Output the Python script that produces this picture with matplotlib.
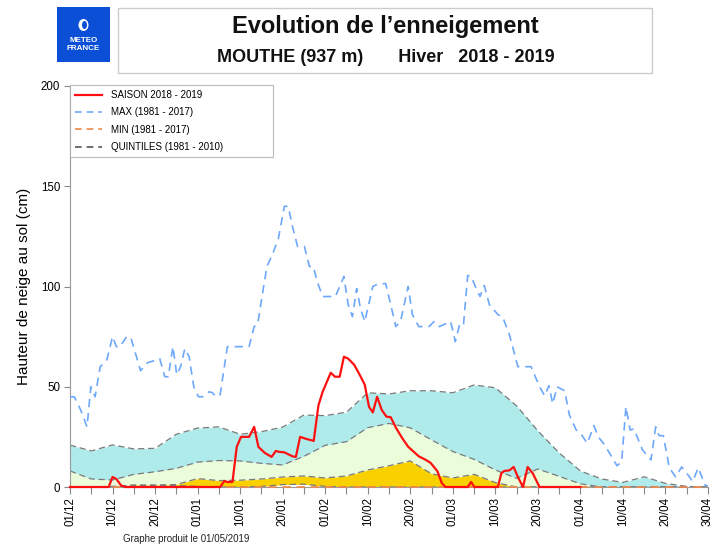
import matplotlib
matplotlib.use("Agg")
import matplotlib.pyplot as plt
from matplotlib.patches import Rectangle, Ellipse
from matplotlib.lines import Line2D

plt.rcParams['font.family'] = ['Liberation Sans', 'DejaVu Sans']

# ---------------- data ----------------
# x axis unit: "decade" based days (each labelled decade = 10 units)
tick_labels = ["01/12", "10/12", "20/12", "01/01", "10/01", "20/01", "01/02", "10/02",
               "20/02", "01/03", "10/03", "20/03", "01/04", "10/04", "20/04", "30/04"]

quint_x = list(range(0, 155, 5))
q80 = [20.9, 18, 21, 19, 19.3, 26.3, 29.4, 30, 26.3, 27.6, 29.9, 35.9, 35.6, 37.3, 47, 46.4,
       48, 48, 47, 50.9, 49.5, 40.5, 28, 17, 8, 4, 2.3, 5.1, 1.8, 0.3, 0]
q60 = [8, 4, 3.5, 6.3, 7.6, 9.3, 12.4, 13.2, 13, 11.8, 11, 15.3, 20.8, 22.6, 29.6, 31.7,
       29.5, 23.5, 17.7, 13.8, 8.5, 4.3, 9, 5.3, 1.6, 0, 0, 0, 0, 0, 0]
q40 = [0, 0, 0.3, 1, 1, 1.2, 4.2, 3.2, 3.4, 4, 5, 5.5, 4.5, 5.5, 8.5, 10.6,
       13, 6.6, 4.5, 6.3, 2.2, 0, 0, 0, 0, 0, 0, 0, 0, 0, 0]
q20 = [0, 0, 0, 0.8, 0.8, 0.8, 0.3, 0, 0, 0.3, 1.2, 1.4, 0.3, 0, 0, 0,
       0, 0, 0, 0, 0, 0, 0, 0, 0, 0, 0, 0, 0, 0, 0]

max_x = [0, 1, 2.6, 4, 4.9, 5.9, 7.1, 8.6, 10, 10.9, 11.8, 13.3, 14.3, 16.6, 18.2, 19.8,
         21.1, 22.3, 23.1, 24.2, 25.1, 26, 27, 28, 29.1, 30.2, 31.2, 32.7, 33.5, 34.3, 35.3,
         37, 42.1, 43.3, 44.1, 45.3, 46.3, 47.6, 49, 50.4, 51.3, 52.3, 53.5, 55.1, 56.3, 57.2,
         58.2, 59.4, 62.4, 64.4, 65.4, 66.4, 67.4, 68.3, 69.3, 71.2, 72.2, 74.2, 75.4, 76.6,
         77.7, 79.5, 80.5, 82, 84.4, 85.6, 86.8, 89.5, 90.6, 91.6, 92.5, 93.5, 94.3, 95.3,
         96.4, 97.4, 98.6, 100.6, 101.7, 103.3, 105.3, 108.4, 110.4, 111.6, 112.6, 113.5,
         114.5, 116.3, 117.4, 119, 120.2, 121.6, 123.2, 124.2, 125.6, 127.1, 128.6, 129.7,
         130.7, 131.7, 132.6, 134.6, 136.6, 137.7, 138.5, 139.5, 140.9, 142.4, 143.8, 145.2,
         146.4, 147.7, 149.3, 150.6]
max_v = [45, 45, 38, 30, 50, 45, 60, 63, 75, 70, 70, 75, 74.5, 58, 62, 63,
         64, 55, 55, 70, 56, 60, 69, 65, 50, 45, 45, 47.5, 47, 45, 46,
         70, 70, 80, 81, 97, 110, 116, 124, 140, 140, 130, 120, 120, 110, 110,
         102, 95, 95, 105, 91, 85, 99, 89, 82.5, 100, 101, 101.5, 91, 80,
         82.5, 100, 86, 80, 80, 82.5, 80, 82.5, 72.5, 81, 80.5, 105.5, 105, 100,
         95, 100.5, 91, 86, 85, 76, 60, 60, 50, 45.5, 50.5, 41.5,
         50, 48, 36, 28.5, 26.3, 21.8, 30.6, 25, 21.3, 16, 10.6, 12.6,
         40, 28.4, 29, 18.5, 13.5, 30, 25.6, 25.6, 9.6, 5, 10, 6.3,
         2.7, 9.6, 1, 0]

min_x = [0, 150]
min_v = [0, 0]

saison_x = [0, 9.1, 10, 10.9, 12, 13, 35.3, 36.3, 37, 38.2, 39.2, 40.2, 42.1, 43.3, 44.3,
            45.8, 47.4, 48.4, 49.2, 50.4, 52.3, 53.1, 54.1, 55.5, 57.3, 58.4, 59.4, 61.3,
            62.3, 63.4, 64.4, 65.4, 66.8, 68.1, 69.3, 70.3, 71.2, 72.2, 73.3, 74.4, 75.4,
            76.7, 78.1, 79.5, 80.9, 82, 83.6, 84.8, 86.4, 87.4, 88.3, 93.5, 94.3, 95.1,
            100.6, 101.4, 102.1, 103.3, 104.3, 105.3, 106.5, 107.6, 108.8, 110.4, 120]
saison_v = [0, 0, 5, 4, 0.8, 0, 0, 3, 2.5, 2.5, 20, 25, 25, 30, 20,
            17, 15, 18, 17.5, 17.3, 15.3, 15, 25, 24, 23, 40.6, 47.5, 57,
            55, 55, 65, 64, 61, 56, 51, 40, 37.2, 45, 38.4, 35.1, 34.8,
            29.3, 24.4, 20.1, 17.4, 15.3, 13.6, 12, 7.8, 2, 0, 0, 2.5, 0,
            0, 6.8, 8, 8.3, 10, 5, 0, 10, 6.8, 0, 0]

# ---------------- figure ----------------
W, H = 710, 544
fig = plt.figure(figsize=(W / 100, H / 100), dpi=100)


def fx(px):
    return px / W


def fy(py):
    return 1 - py / H


ax = fig.add_axes([fx(70), fy(487), fx(708) - fx(70), fy(86) - fy(487)])

c_cyan = '#AFEBEB'
c_green = '#EAFCD9'
c_gold = '#F9D000'
c_q = '#7a7a7a'
c_max = '#6EA8FA'
c_min = '#F0884A'
c_red = '#FF1010'

ax.fill_between(quint_x, q60, q80, color=c_cyan, lw=0, zorder=1)
ax.fill_between(quint_x, q40, q60, color=c_green, lw=0, zorder=1)
ax.fill_between(quint_x, q20, q40, color=c_gold, lw=0, zorder=1)
for q in (q20, q40, q60, q80):
    ax.plot(quint_x, q, color=c_q, lw=0.9, dashes=(5, 3), zorder=2)

ax.plot(max_x, max_v, color=c_max, lw=1.2, dashes=(5, 3.5), zorder=3)
ax.plot(min_x, min_v, color=c_min, lw=1.2, dashes=(5, 3.5), zorder=3, clip_on=False)
ax.plot(saison_x, saison_v, color=c_red, lw=1.6, zorder=4, clip_on=False)

ax.set_xlim(0, 150)
ax.set_ylim(0, 200)
ax.set_xticks(range(0, 151, 10))
ax.set_xticklabels(tick_labels, rotation=90, fontsize=8.3)
ax.set_xticks(range(5, 150, 10), minor=True)
ax.set_yticks([0, 50, 100, 150, 200])
ax.tick_params(axis='y', labelsize=8.3, length=4, width=0.8, color='#888888', pad=3)
ax.tick_params(axis='x', which='both', length=5, width=0.8, color='#888888', pad=2)
for s in ('top', 'right'):
    ax.spines[s].set_visible(False)
for s in ('left', 'bottom'):
    ax.spines[s].set_color('#999999')
    ax.spines[s].set_linewidth(0.8)
ax.set_ylabel('Hauteur de neige au sol (cm)', fontsize=11, labelpad=7)

handles = [Line2D([], [], color=c_red, lw=1.6),
           Line2D([], [], color=c_max, lw=1.2, dashes=(4, 3)),
           Line2D([], [], color=c_min, lw=1.2, dashes=(4, 3)),
           Line2D([], [], color='#555555', lw=1.2, dashes=(4, 3))]
labels = ['SAISON 2018 - 2019', 'MAX (1981 - 2017)', 'MIN (1981 - 2017)', 'QUINTILES (1981 - 2010)']
leg = ax.legend(handles, labels, loc='upper left', bbox_to_anchor=(0, 1.003, 203 / 638, 0),
                mode='expand', fontsize=7, frameon=True, fancybox=False, borderpad=0.55,
                labelspacing=0.75, handlelength=2.7, handletextpad=1.0, borderaxespad=0)
leg.get_frame().set_edgecolor('#aaaaaa')
leg.get_frame().set_linewidth(0.8)
leg.set_zorder(6)

# ---------------- header ----------------
fig.patches.append(Rectangle((fx(118), fy(73)), fx(652) - fx(118), fy(8) - fy(73),
                             transform=fig.transFigure, fill=False, edgecolor='#cccccc', lw=1))
fig.patches.append(Rectangle((fx(57), fy(62)), fx(110) - fx(57), fy(7) - fy(62),
                             transform=fig.transFigure, facecolor='#0A4FD6', edgecolor='none'))
fig.patches.append(Ellipse((fx(83.5), fy(25)), fx(10), 12 / H, transform=fig.transFigure,
                           facecolor='white', edgecolor='none'))
fig.patches.append(Ellipse((fx(84.5), fy(25)), fx(5), 8 / H, transform=fig.transFigure,
                           facecolor='#0A4FD6', edgecolor='none'))
fig.text(fx(83.5), fy(40), 'METEO', color='white', fontsize=5.8, fontweight='bold',
         ha='center', va='center')
fig.text(fx(83.5), fy(48), 'FRANCE', color='white', fontsize=5.8, fontweight='bold',
         ha='center', va='center')

fig.text(fx(385), fy(27), 'Evolution de l\u2019enneigement', fontsize=17, fontweight='bold',
         ha='center', va='center', color='#111111')
fig.text(fx(386), fy(58), 'MOUTHE (937 m)       Hiver   2018 - 2019', fontsize=13,
         fontweight='bold', ha='center', va='center', color='#111111')

fig.text(fx(123), fy(539), 'Graphe produit le 01/05/2019', fontsize=7, ha='left',
         va='center', color='#222222')

fig.savefig('out.png', dpi=100)
